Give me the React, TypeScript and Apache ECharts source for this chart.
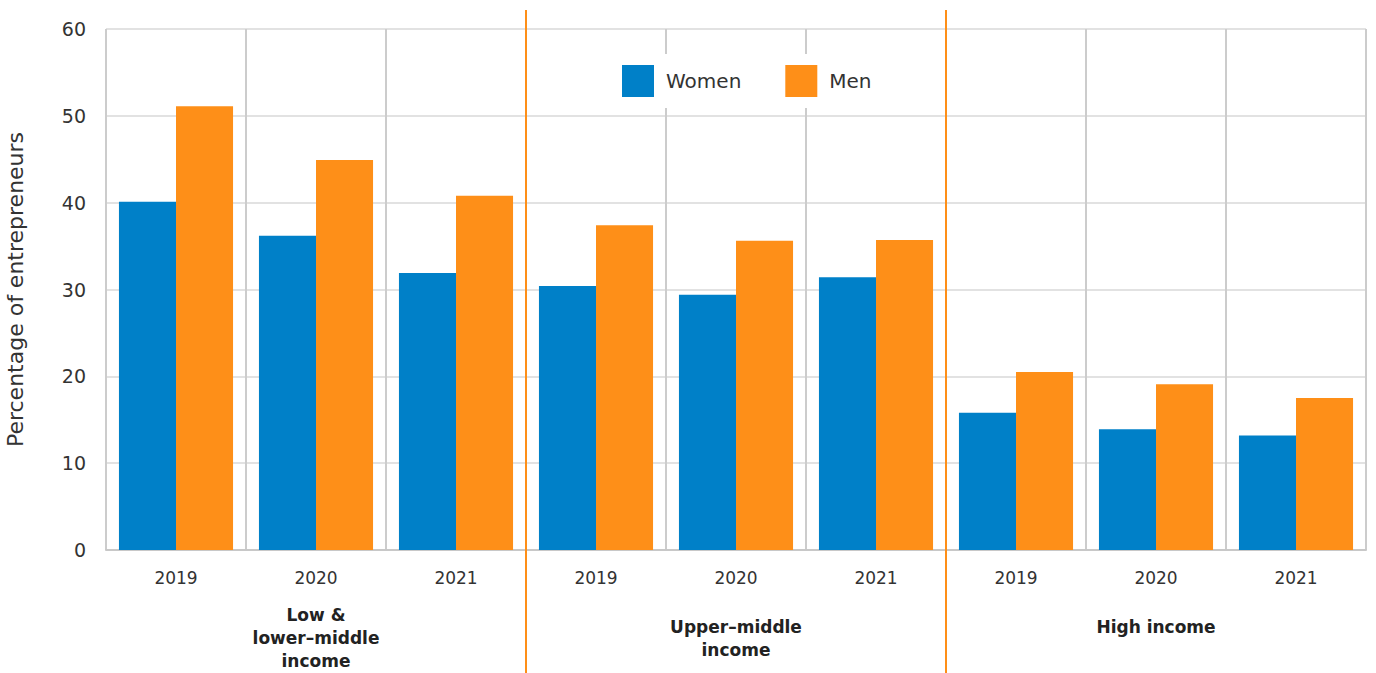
import React, { useEffect, useRef } from "react";
import * as echarts from "echarts";

const years = ["2019", "2020", "2021", "2019", "2020", "2021", "2019", "2020", "2021"];
const groups = ["Low &\nlower–middle\nincome", "Upper–middle\nincome", "High income"];
const women = [40.1, 36.2, 31.9, 30.4, 29.4, 31.4, 15.8, 13.9, 13.2];
const men = [51.1, 44.9, 40.8, 37.4, 35.6, 35.7, 20.5, 19.1, 17.5];
const yTicks = { min: 0, max: 60, interval: 10 };

const FONT = "'DejaVu Sans', sans-serif";
const BLUE = "#0080C8";
const ORANGE = "#FE8F18";

export default function App() {
  const ref = useRef<HTMLDivElement>(null);
  useEffect(() => {
    document.body.style.margin = "0";
    const chart = echarts.init(ref.current!, null, { renderer: "svg" });
    const groupData = groups.map((g, i) =>
      i === groups.length - 1 ? { value: g, textStyle: { verticalAlign: "bottom" } } : g
    );
    chart.setOption({
      animation: false,
      textStyle: { fontFamily: FONT },
      grid: {
        left: 106,
        right: 10,
        top: 29,
        bottom: 123,
        containLabel: false,
        outerBoundsMode: "none",
      },
      legend: {
        data: ["Women", "Men"],
        left: 602,
        top: 54,
        padding: [11, 20],
        backgroundColor: "#ffffff",
        itemWidth: 32,
        itemHeight: 32,
        itemGap: 44,
        icon: "rect",
        textStyle: { fontSize: 20, color: "#333", fontFamily: FONT, padding: [0, 0, 0, 7] },
        z: 10,
      },
      xAxis: [
        {
          type: "category",
          data: years,
          axisLine: { show: true, lineStyle: { color: "#c8c8c8", width: 2 } },
          axisTick: { show: false },
          splitLine: { show: true, lineStyle: { color: "#cccccc", width: 2 } },
          axisLabel: { fontSize: 17, color: "#333", margin: 19, fontFamily: FONT },
        },
        {
          type: "category",
          data: groupData,
          position: "bottom",
          axisLine: { show: false },
          axisTick: { show: false },
          splitLine: { show: false },
          axisLabel: {
            fontSize: 17,
            fontWeight: "bold",
            color: "#222",
            lineHeight: 23,
            verticalAlign: "middle",
            margin: 88,
            fontFamily: FONT,
          },
        },
      ],
      yAxis: {
        type: "value",
        min: yTicks.min,
        max: yTicks.max,
        interval: yTicks.interval,
        name: "Percentage of entrepreneurs",
        nameLocation: "middle",
        nameGap: 80,
        nameTextStyle: { fontSize: 22, color: "#333", fontFamily: FONT },
        axisLine: { show: false },
        axisTick: { show: false },
        splitLine: { lineStyle: { color: "#d9d9d9", width: 1.5 } },
        axisLabel: { fontSize: 19, color: "#333", margin: 20, fontFamily: FONT },
      },
      series: [
        {
          name: "Women",
          type: "bar",
          data: women,
          itemStyle: { color: BLUE },
          barGap: "0%",
          barCategoryGap: "18.5%",
        },
        {
          name: "Men",
          type: "bar",
          data: men,
          itemStyle: { color: ORANGE },
          barGap: "0%",
          barCategoryGap: "18.5%",
        },
      ],
    });
    const sep = (a: number, b: number) => {
      const pa = chart.convertToPixel({ xAxisIndex: 0 }, a) as number;
      const pb = chart.convertToPixel({ xAxisIndex: 0 }, b) as number;
      return (pa + pb) / 2;
    };
    const xs = [sep(2, 3), sep(5, 6)];
    chart.setOption({
      graphic: xs.map((x) => ({
        type: "line",
        shape: { x1: x, y1: 10, x2: x, y2: 673 },
        style: { stroke: ORANGE, lineWidth: 2 },
        z: 100,
      })),
    });
    return () => chart.dispose();
  }, []);
  return <div ref={ref} style={{ width: 1376, height: 673 }} />;
}
